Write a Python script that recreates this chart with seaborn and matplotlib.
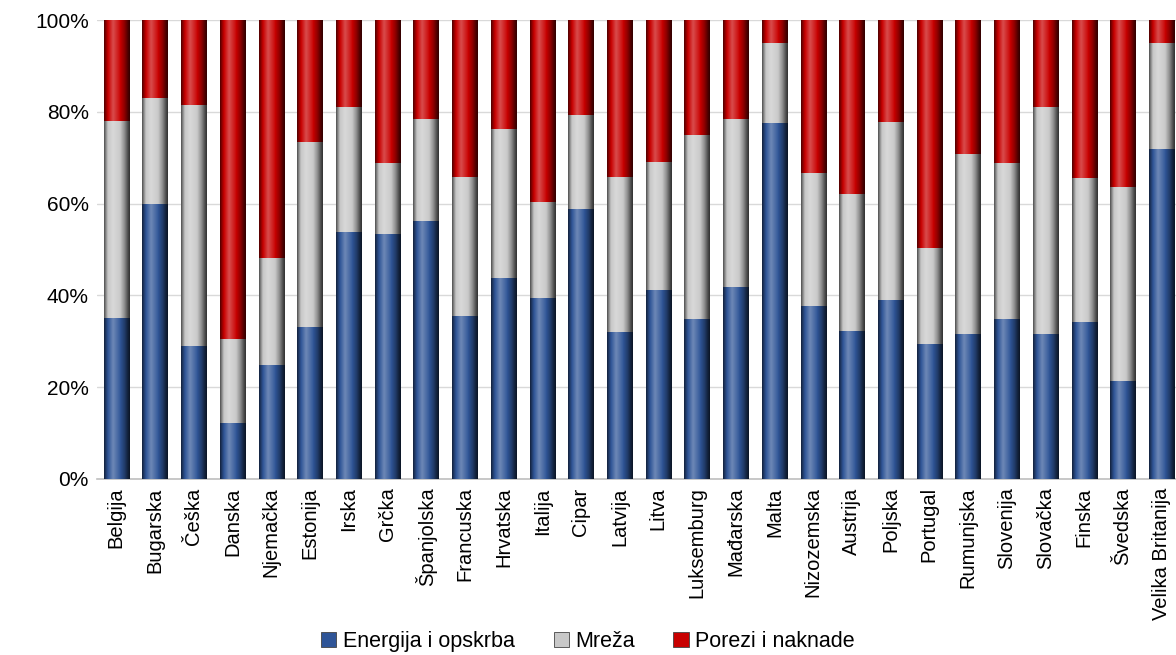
import numpy as np
import pandas as pd
import matplotlib
matplotlib.use("Agg")
import matplotlib.pyplot as plt
from matplotlib.patches import Patch
import seaborn as sns

# udjeli u cijeni (%), ocitano sa slike
drzave = ["Belgija", "Bugarska", "Češka", "Danska", "Njemačka", "Estonija", "Irska",
          "Grčka", "Španjolska", "Francuska", "Hrvatska", "Italija", "Cipar", "Latvija",
          "Litva", "Luksemburg", "Mađarska", "Malta", "Nizozemska", "Austrija", "Poljska",
          "Portugal", "Rumunjska", "Slovenija", "Slovačka", "Finska", "Švedska",
          "Velika Britanija"]
energija = [35.0, 60.0, 29.0, 12.3, 24.8, 33.2, 53.9, 53.4, 56.3, 35.5, 43.7, 39.4, 58.8, 32.0,
            41.2, 34.8, 41.8, 77.6, 37.7, 32.3, 39.0, 29.4, 31.5, 34.8, 31.5, 34.1, 21.4, 72.0]
mreza = [43.1, 22.9, 52.5, 18.1, 23.3, 40.3, 27.1, 15.5, 22.1, 30.2, 32.5, 21.0, 20.5, 33.9,
         27.8, 40.2, 36.6, 17.4, 28.9, 29.9, 38.8, 20.9, 39.3, 34.0, 49.5, 31.4, 42.3, 22.9]
porezi = [21.9, 17.1, 18.5, 69.6, 51.9, 26.5, 19.0, 31.1, 21.6, 34.3, 23.8, 39.6, 20.7, 34.1,
          31.0, 25.0, 21.6, 5.0, 33.4, 37.8, 22.2, 49.7, 29.2, 31.2, 19.0, 34.5, 36.3, 5.1]
serije = ["Energija i opskrba", "Mreža", "Porezi i naknade"]
boje = ["#2F5597", "#C8C8C8", "#C80000"]

df = pd.DataFrame({"drzava": drzave, "energija": energija, "mreza": mreza, "porezi": porezi})
df["c1"] = df["energija"]
df["c2"] = df["c1"] + df["mreza"]
df["c3"] = df["c2"] + df["porezi"]

sns.set_theme(style="white")
plt.rcParams["font.family"] = ["Liberation Sans", "DejaVu Sans"]

fig = plt.figure(figsize=(11.76, 6.55), dpi=100)
ax = fig.add_axes([97 / 1176, 1 - 479 / 655, (1181 - 97) / 1176, 459 / 655])

# slaganje: najvisi stupac prvi, ostali preko njega
for col, boja in zip(["c3", "c2", "c1"], boje[::-1]):
    sns.barplot(data=df, x="drzava", y=col, color=boja, width=0.65, ax=ax,
                saturation=1, edgecolor="none", zorder=2)

# 3D sjencanje stupaca (gradijent lijevo-desno)
t = np.linspace(0, 1, 64)
sjena = np.interp(t, [0, 0.06, 0.15, 0.35, 0.6, 0.8, 0.92, 1],
                  [-0.6, -0.35, 0.0, 0.3, 0.05, -0.3, -0.6, -0.75])
for p in list(ax.patches):
    rgb = np.array(p.get_facecolor()[:3])
    grad = np.empty((1, len(t), 3))
    for i, s in enumerate(sjena):
        grad[0, i] = rgb + (1 - rgb) * s if s > 0 else rgb * (1 + s)
    x0, y0 = p.get_x(), p.get_y()
    im = ax.imshow(grad, extent=[x0, x0 + p.get_width(), y0, y0 + p.get_height()],
                   aspect="auto", zorder=3, interpolation="bilinear")
    im.set_clip_path(p)

ax.set_xlim(-0.5, len(drzave) - 0.5)
ax.set_ylim(0, 100)
ax.set_yticks(np.arange(0, 101, 20))
ax.set_yticklabels([f"{v}%" for v in range(0, 101, 20)], fontsize=15)
ax.set_xticks(range(len(drzave)))
ax.set_xticklabels(drzave, rotation=90, fontsize=14.5)
ax.set_xlabel("")
ax.set_ylabel("")
ax.tick_params(axis="both", length=0, pad=6, colors="black")
ax.grid(axis="y", color="#D9D9D9", lw=1, zorder=0)
ax.set_axisbelow(True)
for s in ["top", "right", "left"]:
    ax.spines[s].set_visible(False)
ax.spines["bottom"].set_color("#BFBFBF")
ax.spines["bottom"].set_linewidth(1.2)

handles = [Patch(facecolor=b, edgecolor="#444444", linewidth=0.6) for b in boje]
fig.legend(handles, serije, loc="lower center", bbox_to_anchor=(0.5, -0.025), ncol=3,
           frameon=False, fontsize=15.5, handlelength=0.7, handleheight=0.7,
           handletextpad=0.3, columnspacing=1.8, labelcolor="black")

fig.savefig("out.png", dpi=100)
